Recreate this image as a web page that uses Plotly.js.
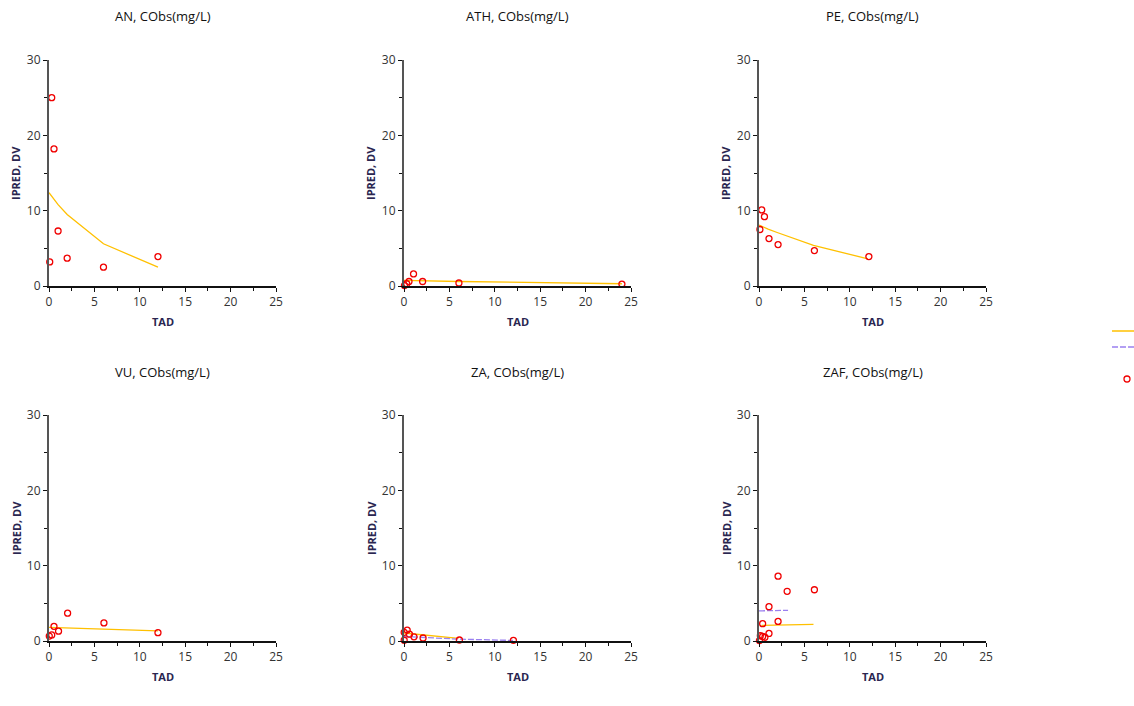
<!DOCTYPE html>
<html>
<head>
<meta charset="utf-8">
<script src="https://cdn.plot.ly/plotly-3.0.1.min.js"></script>
<style>html,body{margin:0;padding:0;background:#fff;}#chart{width:1134px;height:706px;}</style>
</head>
<body>
<div id="chart"></div>
<script>
// ---- data ----
const panels = ["AN", "ATH", "PE", "VU", "ZA", "ZAF"];
const titleSuffix = ", CObs(mg/L)";
const xTitle = "TAD";
const yTitle = "IPRED, DV";
const xTicks = [0, 5, 10, 15, 20, 25];
const yTicks = [0, 10, 20, 30];

// observed DV (red open circles)
const dvTAD = {
  AN:  [0.08, 0.3, 0.55, 1, 2, 6, 12],
  ATH: [0.05, 0.3, 0.55, 1.05, 2.05, 6.05, 24],
  PE:  [0.1, 0.3, 0.6, 1.1, 2.1, 6.1, 12.1],
  VU:  [0.03, 0.3, 0.55, 1.05, 2.05, 6.05, 12],
  ZA:  [0.02, 0.02, 0.35, 0.6, 1.1, 2.1, 6.1, 12.05],
  ZAF: [0.05, 0.15, 0.4, 0.65, 0.4, 1.1, 1.1, 2.1, 2.1, 3.1, 6.1]
};
const dvVal = {
  AN:  [3.2, 25.0, 18.2, 7.3, 3.7, 2.5, 3.9],
  ATH: [0.05, 0.3, 0.6, 1.6, 0.6, 0.4, 0.25],
  PE:  [7.5, 10.1, 9.2, 6.3, 5.5, 4.7, 3.9],
  VU:  [0.66, 0.8, 1.95, 1.3, 3.7, 2.4, 1.1],
  ZA:  [0.1, 1.15, 1.45, 0.9, 0.55, 0.4, 0.13, 0.09],
  ZAF: [0.05, 0.7, 0.6, 0.5, 2.3, 1.0, 4.55, 8.6, 2.6, 6.6, 6.8]
};
// IPRED (orange solid)
const iTAD = {
  AN:  [0, 0.25, 0.5, 1, 2, 6, 12],
  ATH: [0, 2, 6, 24],
  PE:  [0, 0.5, 1, 2, 6, 12],
  VU:  [0, 6, 12],
  ZA:  [0, 2, 6],
  ZAF: [0.3, 6]
};
const iVal = {
  AN:  [12.4, 12.0, 11.6, 10.8, 9.5, 5.6, 2.5],
  ATH: [0.75, 0.7, 0.6, 0.3],
  PE:  [8.1, 7.8, 7.55, 7.1, 5.4, 3.6],
  VU:  [1.8, 1.57, 1.35],
  ZA:  [1.06, 0.8, 0.35],
  ZAF: [2.08, 2.2]
};
// second prediction (purple dashed)
const pTAD = {
  ZA:  [0, 2, 6, 12],
  ZAF: [0, 3.2]
};
const pVal = {
  ZA:  [0.6, 0.45, 0.25, 0.08],
  ZAF: [4.0, 4.07]
};

// ---- layout geometry ----
const W = 1134, H = 706;
const colPx = [[49, 276], [404, 631], [759, 986]];
const rowPx = [[60, 286], [415, 641]];
const orange = "#FFC000";
const purple = "#9A80F0";
const red = "#F00000";
const axisTitleColor = "#2a2650";
const fontFam = "'Open Sans', 'Noto Sans', 'DejaVu Sans', sans-serif";

function legendBox(yPx) {
  return {x: 1107 / W, y: 1 - yPx / H, xanchor: "left", yanchor: "middle",
          font: {size: 8, color: "#222"}, bgcolor: "rgba(0,0,0,0)", borderwidth: 0};
}

const traces = [];
const layout = {
  width: W, height: H,
  margin: {l: 0, r: 0, t: 0, b: 0, autoexpand: false},
  paper_bgcolor: "#fff", plot_bgcolor: "#fff",
  font: {family: fontFam, size: 12, color: "#222"},
  showlegend: true,
  legend: legendBox(331),
  legend2: legendBox(347),
  legend3: legendBox(379),
  annotations: []
};

panels.forEach((p, i) => {
  const r = Math.floor(i / 3), c = i % 3;
  const xa = i === 0 ? "x" : "x" + (i + 1);
  const ya = i === 0 ? "y" : "y" + (i + 1);
  const xk = i === 0 ? "xaxis" : "xaxis" + (i + 1);
  const yk = i === 0 ? "yaxis" : "yaxis" + (i + 1);
  const xd = [colPx[c][0] / W, colPx[c][1] / W];
  const yd = [1 - rowPx[r][1] / H, 1 - rowPx[r][0] / H];

  layout[xk] = {
    domain: xd, anchor: ya, range: [0, 25], tickvals: xTicks, ticktext: xTicks.map(String),
    showgrid: false, zeroline: false, showline: true, linecolor: "#111", linewidth: 1.5,
    ticks: "outside", ticklen: 4, tickcolor: "#111", tickfont: {size: 12, color: "#333"},
    minor: {tickvals: [2.5, 7.5, 12.5, 17.5, 22.5], ticks: "outside", ticklen: 3, tickcolor: "#111"},
    fixedrange: true
  };
  layout[yk] = {
    domain: yd, anchor: xa, range: [0, 30], tickvals: yTicks, ticktext: yTicks.map(String),
    showgrid: false, zeroline: false, showline: true, linecolor: "#555", linewidth: 2,
    ticks: "outside", ticklen: 4, tickcolor: "#111", tickfont: {size: 12, color: "#333"},
    minor: {tickvals: [5, 15, 25], ticks: "outside", ticklen: 3, tickcolor: "#111"},
    fixedrange: true
  };

  // panel title
  layout.annotations.push({
    xref: "paper", yref: "paper", x: (colPx[c][0] + colPx[c][1]) / 2 / W, y: 1 - (r === 0 ? 16 : 372) / H,
    xanchor: "center", yanchor: "middle", showarrow: false, text: p + titleSuffix,
    font: {size: 13, color: "#111", family: fontFam}
  });
  // x axis title
  layout.annotations.push({
    xref: "paper", yref: "paper", x: (colPx[c][0] + colPx[c][1]) / 2 / W, y: 1 - (rowPx[r][1] + 35) / H,
    xanchor: "center", yanchor: "middle", showarrow: false, text: "<b>" + xTitle + "</b>",
    font: {size: 11, color: axisTitleColor, family: fontFam}
  });
  // y axis title
  layout.annotations.push({
    xref: "paper", yref: "paper", x: (colPx[c][0] - 33) / W, y: 1 - ((rowPx[r][0] + rowPx[r][1]) / 2) / H,
    xanchor: "center", yanchor: "middle", showarrow: false, textangle: -90, text: "<b>" + yTitle + "</b>",
    font: {size: 11, color: axisTitleColor, family: fontFam}
  });

  traces.push({
    type: "scatter", mode: "lines", x: iTAD[p], y: iVal[p], xaxis: xa, yaxis: ya,
    line: {color: orange, width: 1.3}, name: " ", legend: "legend",
    showlegend: i === 0, cliponaxis: false, hoverinfo: "skip"
  });
  if (pTAD[p]) {
    traces.push({
      type: "scatter", mode: "lines", x: pTAD[p], y: pVal[p], xaxis: xa, yaxis: ya,
      line: {color: purple, width: 1.3, dash: "6px,2px"}, name: " ", legend: "legend2",
      showlegend: p === "ZA", cliponaxis: false, hoverinfo: "skip"
    });
  }
  traces.push({
    type: "scatter", mode: "markers", x: dvTAD[p], y: dvVal[p], xaxis: xa, yaxis: ya,
    marker: {symbol: "circle-open", size: 6, color: red, line: {width: 1.3, color: red}},
    name: " ", legend: "legend3", showlegend: i === 0, cliponaxis: false, hoverinfo: "skip"
  });
});

Plotly.newPlot("chart", traces, layout, {displayModeBar: false, staticPlot: true});
</script>
</body>
</html>
